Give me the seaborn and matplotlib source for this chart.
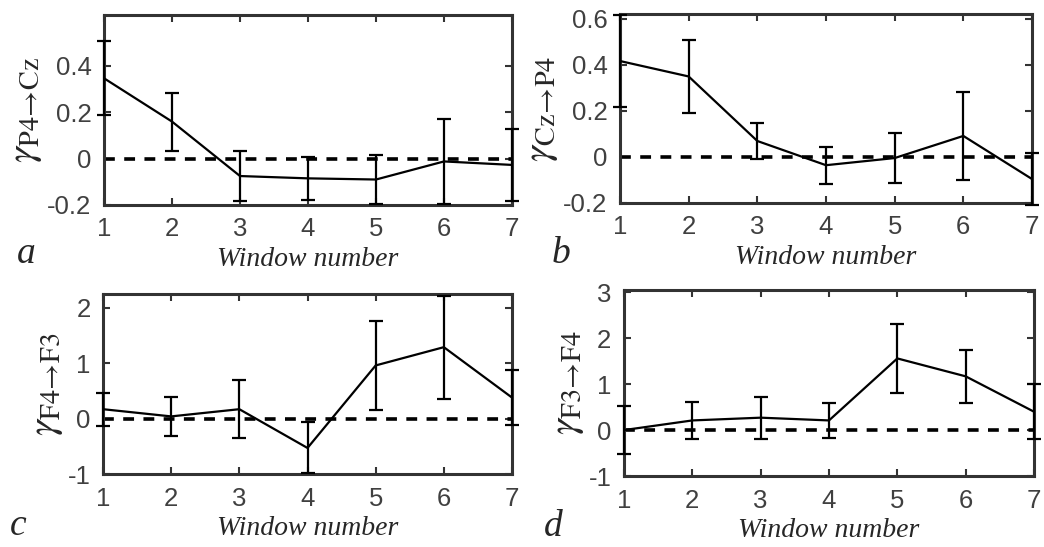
import numpy as np
import pandas as pd
import matplotlib
matplotlib.use("Agg")
import matplotlib.pyplot as plt
import seaborn as sns

sns.set_style("ticks")
plt.rcParams['font.family'] = ['Liberation Sans', 'DejaVu Sans']
plt.rcParams['mathtext.fontset'] = 'stix'

windows = [1, 2, 3, 4, 5, 6, 7]

# Panel a: gamma P4->Cz
a_mean = [0.347, 0.16, -0.075, -0.085, -0.09, -0.012, -0.027]
a_err = [0.16, 0.125, 0.108, 0.092, 0.105, 0.185, 0.155]
# Panel b: gamma Cz->P4
b_mean = [0.416, 0.349, 0.069, -0.036, -0.005, 0.091, -0.096]
b_err = [0.20, 0.157, 0.078, 0.08, 0.11, 0.19, 0.113]
# Panel c: gamma F4->F3
c_mean = [0.17, 0.04, 0.17, -0.53, 0.96, 1.29, 0.38]
c_err = [0.30, 0.345, 0.52, 0.46, 0.80, 0.93, 0.50]
# Panel d: gamma F3->F4
d_mean = [0.0, 0.21, 0.27, 0.21, 1.56, 1.17, 0.40]
d_err = [0.52, 0.41, 0.46, 0.39, 0.76, 0.57, 0.60]

ylabels = [r'$\gamma_{\mathrm{P4\!\rightarrow\! Cz}}$', r'$\gamma_{\mathrm{Cz\!\rightarrow\! P4}}$',
           r'$\gamma_{\mathrm{F4\!\rightarrow\! F3}}$', r'$\gamma_{\mathrm{F3\!\rightarrow\! F4}}$']
letters = ['a', 'b', 'c', 'd']
ylims = [(-0.2, 0.62), (-0.2, 0.62), (-1, 2.25), (-1, 3.05)]
yticks = [[-0.2, 0, 0.2, 0.4], [-0.2, 0, 0.2, 0.4, 0.6], [-1, 0, 1, 2], [-1, 0, 1, 2, 3]]
yticklabels = [['-0.2', '0', '0.2', '0.4'], ['-0.2', '0', '0.2', '0.4', '0.6'],
               ['-1', '0', '1', '2'], ['-1', '0', '1', '2', '3']]

W, H = 1044, 547
fig = plt.figure(figsize=(W / 100, H / 100), dpi=100)
boxes = [(104, 512, 15, 205), (620, 1032, 14, 203), (103, 512, 294, 474), (624, 1034, 290, 476)]
letter_pos = [(26, 263), (561, 263), (18, 535), (553, 536)]

means = [a_mean, b_mean, c_mean, d_mean]
errs = [a_err, b_err, c_err, d_err]
spine_col = '#333333'
tick_col = '#404040'

for i in range(4):
    l, r, t, b = boxes[i]
    ax = fig.add_axes([l / W, 1 - b / H, (r - l) / W, (b - t) / H])
    df = pd.DataFrame({'window': windows, 'gamma': means[i], 'err': errs[i]})
    ax.axhline(0, color='black', lw=2.6, ls=(0, (3, 2.6)), zorder=1)
    sns.lineplot(data=df, x='window', y='gamma', color='black', lw=1.6, ax=ax, zorder=3)
    ax.errorbar(df['window'], df['gamma'], yerr=df['err'], fmt='none', ecolor='black',
                elinewidth=1.6, capsize=5, capthick=1.6, clip_on=False, zorder=4)
    ax.set_xlim(1, 7)
    ax.set_ylim(*ylims[i])
    ax.set_xticks(windows)
    ax.set_xticklabels([str(w) for w in windows])
    ax.set_yticks(yticks[i])
    ax.set_yticklabels(yticklabels[i])
    ax.tick_params(direction='in', length=5, width=1.5, top=True, right=True,
                   labelsize=18.5, labelcolor=tick_col, color=spine_col, pad=9)
    for s in ax.spines.values():
        s.set_color(spine_col)
        s.set_linewidth(2.2)
        s.set_visible(True)
    ax.set_xlabel('Window number', family='Liberation Serif', style='italic', fontsize=20, labelpad=4)
    ax.set_ylabel(ylabels[i], fontsize=29, labelpad=2)
    fig.text(letter_pos[i][0] / W, 1 - letter_pos[i][1] / H, letters[i], family='Liberation Serif',
             style='italic', fontsize=27, ha='center', va='baseline')

fig.savefig('out.png', dpi=100)
